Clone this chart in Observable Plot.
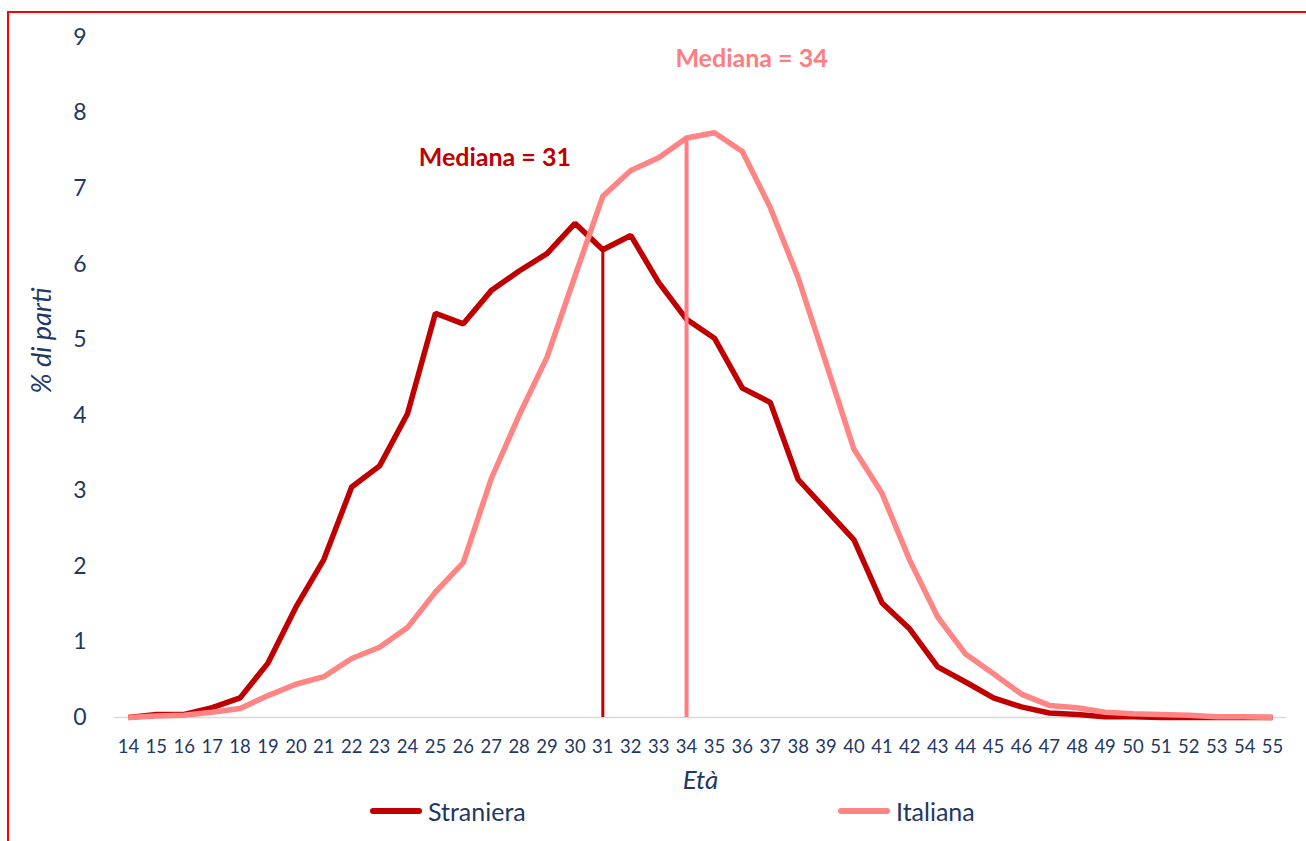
<!DOCTYPE html>
<html>
<head>
<meta charset="utf-8">
<script src="https://cdn.jsdelivr.net/npm/d3@7"></script>
<script src="https://cdn.jsdelivr.net/npm/@observablehq/plot@0.6"></script>
<style>
  html, body { margin: 0; padding: 0; background: #fff; }
  #wrap { position: relative; width: 1306px; height: 841px; overflow: hidden; font-family: Lato, "Open Sans", sans-serif; }
  #frame { position: absolute; left: 7px; top: 11px; right: 0; bottom: 0; border-top: 2px solid #ff0000; border-left: 2px solid #ff0000; }
  #chart { position: absolute; left: 0; top: 0; }
  #legend { position: absolute; left: 0; top: 796px; width: 1306px; height: 30px; color: #1f3864; font-size: 25px; }
  .item { position: absolute; top: 0; display: flex; align-items: center; height: 30px; }
  .swatch { width: 52px; height: 5.5px; border-radius: 3px; margin-right: 6px; }
</style>
</head>
<body>
<div id="wrap">
  <div id="frame"></div>
  <div id="chart"></div>
  <div id="legend"></div>
</div>
<script>
// ---- Data ----
const ages = [14,15,16,17,18,19,20,21,22,23,24,25,26,27,28,29,30,31,32,33,34,35,36,37,38,39,40,41,42,43,44,45,46,47,48,49,50,51,52,53,54,55];
const straniera = [0.00,0.04,0.04,0.13,0.26,0.72,1.46,2.09,3.05,3.33,4.02,5.35,5.21,5.65,5.91,6.14,6.54,6.19,6.38,5.76,5.27,5.02,4.36,4.17,3.15,2.75,2.35,1.52,1.17,0.67,0.47,0.26,0.14,0.06,0.04,0.01,0.01,0.00,0.00,0.00,0.00,0.00];
const italiana  = [0.00,0.02,0.03,0.07,0.12,0.29,0.44,0.54,0.78,0.93,1.19,1.66,2.05,3.16,4.00,4.77,5.84,6.90,7.24,7.41,7.67,7.74,7.49,6.75,5.82,4.69,3.55,2.97,2.08,1.33,0.84,0.58,0.31,0.16,0.13,0.07,0.05,0.04,0.03,0.01,0.01,0.00];
const seriesNames = ["Straniera", "Italiana"];
const seriesColors = ["#c00000", "#ff8585"];
const medianAges = [31, 34];
const medianColors = ["#c00000", "#ff7c80"];
const medianWidths = [3, 4];
const medianLabels = ["Mediana = 31", "Mediana = 34"];
const labelAnchorX = [24.4, 33.6];
const labelAnchorY = [7.4, 8.71];
const yTicks = [0,1,2,3,4,5,6,7,8,9];

const seriesValues = [straniera, italiana];
const rows = [];
seriesNames.forEach((s, i) => ages.forEach((a, j) => rows.push({series: s, age: a, value: seriesValues[i][j]})));

const medians = seriesNames.map((s, i) => ({
  series: s,
  age: medianAges[i],
  value: seriesValues[i][ages.indexOf(medianAges[i])],
  color: medianColors[i],
  width: medianWidths[i],
  label: medianLabels[i],
  lx: labelAnchorX[i],
  ly: labelAnchorY[i]
}));

const navy = "#1f3864";

const chart = Plot.plot({
  width: 1306,
  height: 800,
  marginLeft: 114,
  marginRight: 20,
  marginTop: 37,
  marginBottom: 83,
  style: {fontFamily: "Lato, 'Open Sans', sans-serif", color: navy, background: "transparent"},
  x: {domain: [13.5, 55.5]},
  y: {domain: [0, 9]},
  color: {domain: seriesNames, range: seriesColors},
  marks: [
    Plot.ruleY([0], {x1: 13.5, x2: 55.5, stroke: "#d9d9d9", strokeWidth: 1.5}),
    Plot.axisY({ticks: yTicks, tickSize: 0, tickPadding: 28, fontSize: 23, label: null, tickFormat: d => String(d), fill: navy}),
    Plot.axisX({ticks: ages, tickSize: 0, tickPadding: 22, fontSize: 18.5, label: null, tickFormat: d => String(d), fill: navy}),
    Plot.line(rows, {x: "age", y: "value", z: "series", stroke: "series", strokeWidth: 5.5, strokeLinejoin: "miter", strokeLinecap: "butt"}),
    Plot.ruleX(medians, {x: "age", y1: 0, y2: "value", stroke: "color", strokeWidth: "width"}),
    Plot.text(medians, {x: "lx", y: "ly", text: "label", fill: "color", fontSize: 25, fontWeight: "bold", textAnchor: "start"}),
    Plot.text(["% di parti"], {frameAnchor: "left", rotate: -90, dx: -72, dy: 16, fontSize: 27, fontStyle: "italic", fill: navy}),
    Plot.text(["Età"], {frameAnchor: "bottom", dy: 71, fontSize: 26, fontStyle: "italic", fill: navy})
  ]
});
document.getElementById("chart").appendChild(chart);

// ---- Legend ----
const legend = document.getElementById("legend");
const legendLeft = [370, 838];
seriesNames.forEach((s, i) => {
  const it = document.createElement("div");
  it.className = "item";
  it.style.left = legendLeft[i] + "px";
  const sw = document.createElement("div");
  sw.className = "swatch";
  sw.style.background = seriesColors[i];
  const tx = document.createElement("span");
  tx.textContent = s;
  it.appendChild(sw);
  it.appendChild(tx);
  legend.appendChild(it);
});
</script>
</body>
</html>
